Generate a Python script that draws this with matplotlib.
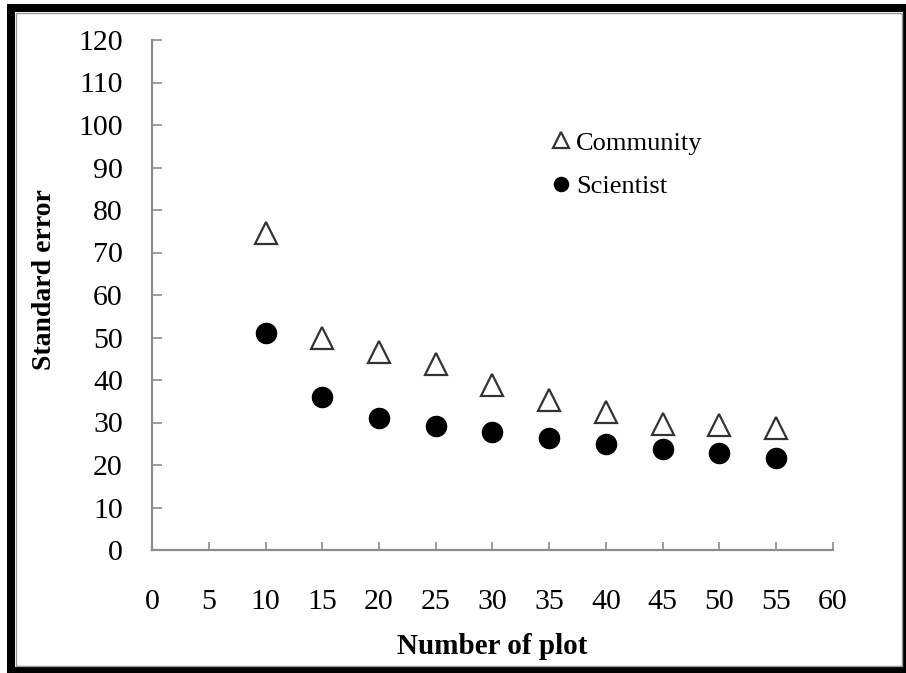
import numpy as np
import matplotlib.pyplot as plt
from matplotlib.patches import Rectangle

plt.rcParams['font.family'] = ['Liberation Serif', 'DejaVu Serif']

# data
plots = [10, 15, 20, 25, 30, 35, 40, 45, 50, 55]
community = [74.5, 49.8, 46.5, 43.8, 38.9, 35.3, 32.5, 29.6, 29.4, 28.7]
scientist = [51.0, 36.0, 31.1, 29.2, 27.8, 26.4, 24.9, 23.8, 22.8, 21.6]
xticks = list(range(0, 61, 5))
yticks = list(range(0, 121, 10))

W, H = 906, 673
fig = plt.figure(figsize=(W / 100, H / 100), dpi=100)
ax = fig.add_axes([152 / W, 1 - 550 / H, (833 - 152) / W, (550 - 40) / H])

ax.plot(plots, community, linestyle='none', marker='^', markersize=16,
        markerfacecolor='white', markeredgecolor='#333333', markeredgewidth=1.6,
        label='Community')
ax.plot(plots, scientist, linestyle='none', marker='o', markersize=14.5,
        markerfacecolor='black', markeredgecolor='black', label='Scientist')

ax.set_xlim(0, 60)
ax.set_ylim(0, 120)
ax.set_xticks(xticks)
ax.set_yticks(yticks)

gray = '#8c8c8c'
for s in ['top', 'right']:
    ax.spines[s].set_visible(False)
for s in ['left', 'bottom']:
    ax.spines[s].set_color(gray)
    ax.spines[s].set_linewidth(1.6)
ax.tick_params(axis='both', direction='in', color=gray, width=1.2, labelsize=21.5)
ax.tick_params(axis='y', length=7, pad=21)
ax.tick_params(axis='x', length=6, pad=28)

ax.set_xlabel('Number of plot', fontsize=21, fontweight='bold', labelpad=13)
ax.set_ylabel('Standard error', fontsize=20, fontweight='bold')
ax.yaxis.set_label_coords(-0.14, 0.53)

leg = ax.legend(loc='upper left', bbox_to_anchor=(0.57, 0.847), frameon=False,
                fontsize=19, markerscale=0.7, handlelength=0.6,
                handletextpad=0.25, labelspacing=0.75, borderpad=0)

# black screenshot frame
def band(x0, y0, x1, y1, color='black'):
    fig.add_artist(Rectangle((x0 / W, 1 - y1 / H), (x1 - x0) / W, (y1 - y0) / H,
                             transform=fig.transFigure, facecolor=color,
                             edgecolor='none'))

band(7, 4, 15, 673)
band(7, 4, 906, 12)
band(903, 4, 906, 673)
band(7, 667, 906, 673)
fig.add_artist(Rectangle((16 / W, 1 - 666 / H), (902 - 16) / W, (666 - 13) / H,
                         transform=fig.transFigure, facecolor='none',
                         edgecolor='#999999', linewidth=1))

fig.savefig('out.png', dpi=100)
